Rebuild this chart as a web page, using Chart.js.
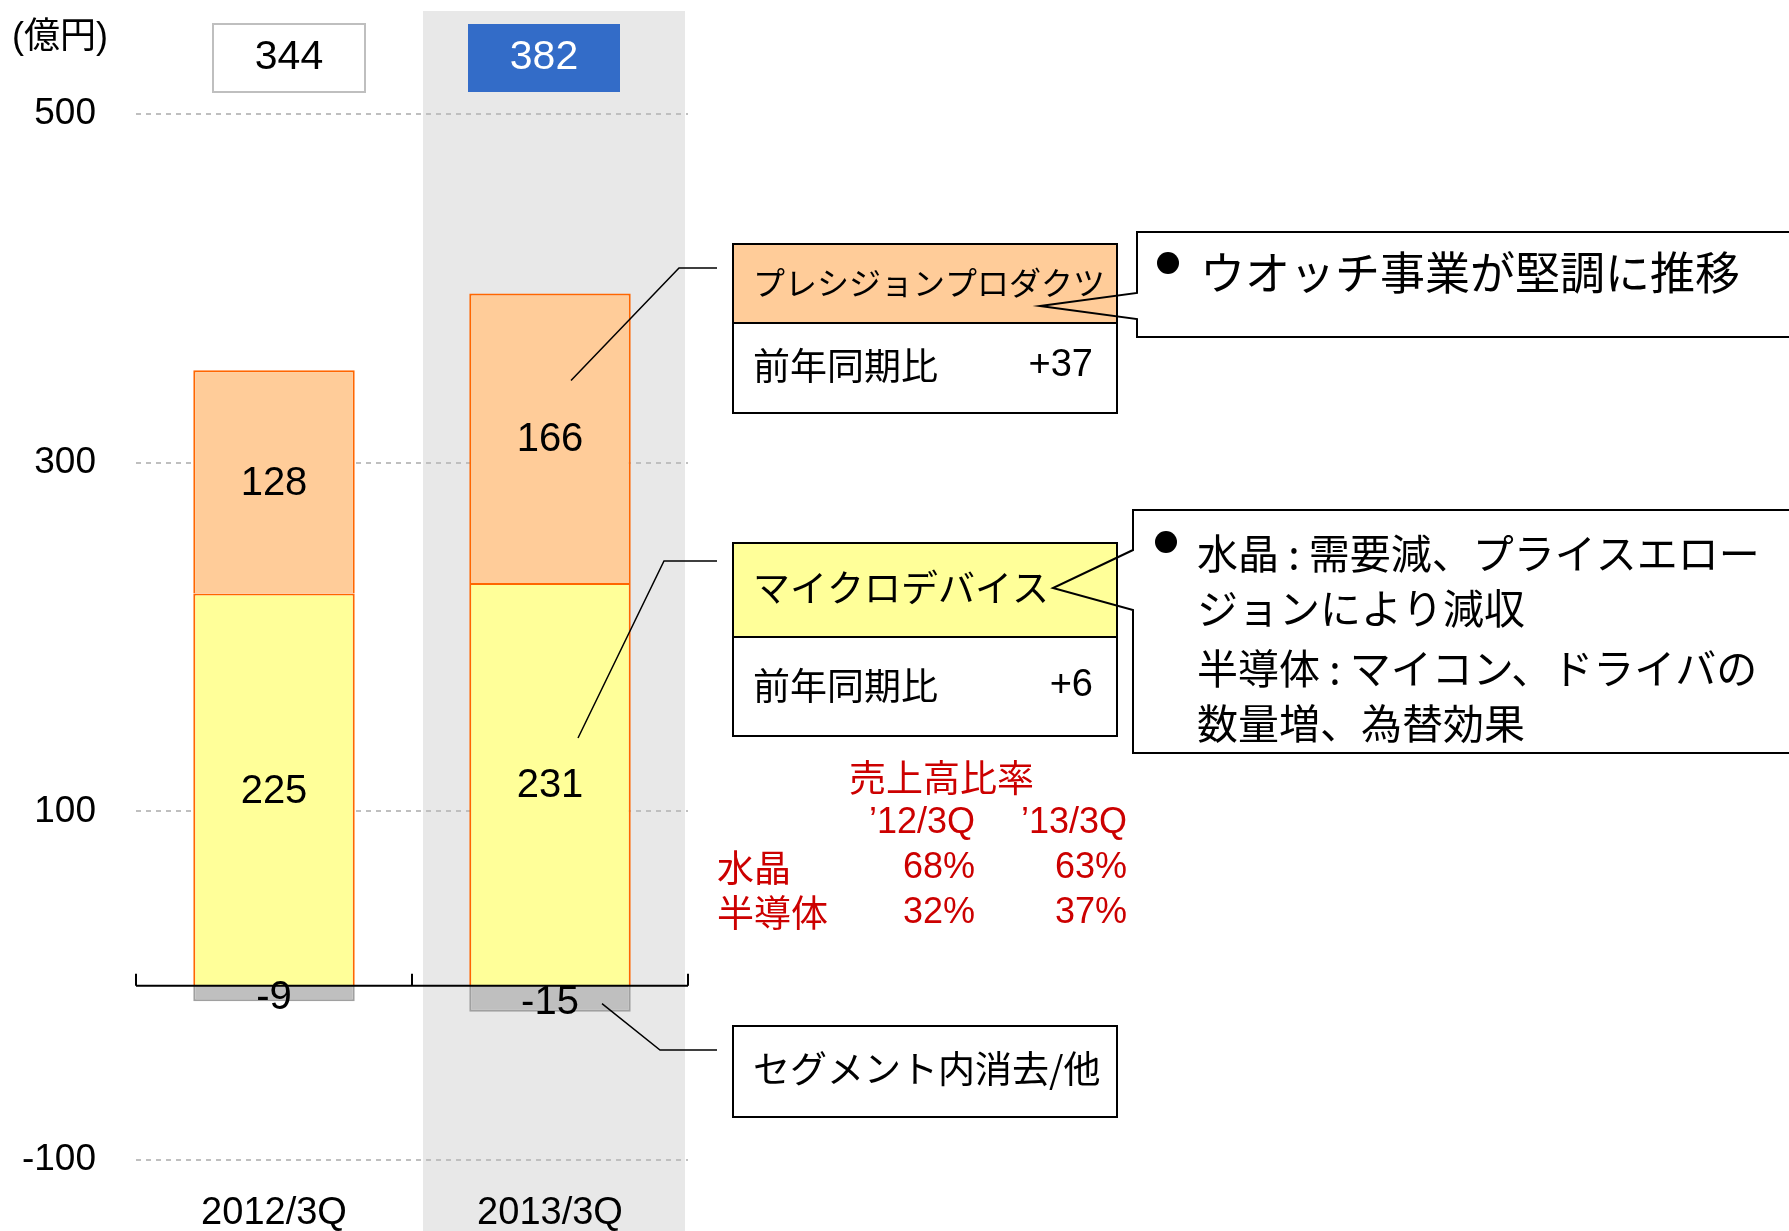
<!DOCTYPE html>
<html lang="ja">
<head>
<meta charset="utf-8">
<title>セグメント別売上高</title>
<script src="https://cdn.jsdelivr.net/npm/chart.js@4.4.1/dist/chart.umd.min.js"></script>
<style>
html, body { margin: 0; padding: 0; background: #fff; }
#wrap { position: relative; width: 1789px; height: 1231px; }
</style>
</head>
<body>
<div id="wrap"><canvas id="salesChart"></canvas></div>
<script>
// données (億円)
const categories = ['2012/3Q', '2013/3Q'];
const microDevices = [225, 231];
const precisionProducts = [128, 166];
const eliminations = [-9, -15];
const yTickValues = [-100, 100, 300, 500];

const yoyPrecision = '+37';
const yoyMicro = '+6';
const ratioYears = ['’12/3Q', '’13/3Q'];
const crystalShare = [68, 63];
const semiconductorShare = [32, 37];

const LATIN = '"Liberation Sans", Arial, "Noto Sans CJK JP", sans-serif';
const JP = '"Noto Sans CJK JP", "Liberation Sans", sans-serif';

function drawText(ctx, str, x, y, font, color, align) {
    ctx.font = font;
    ctx.fillStyle = color || '#000';
    ctx.textAlign = align || 'left';
    ctx.textBaseline = 'middle';
    ctx.fillText(str, x, y);
}

function drawBox(ctx, x, y, w, h, fill, stroke, lw) {
    if (fill) {
        ctx.fillStyle = fill;
        ctx.fillRect(x, y, w, h);
    }
    if (stroke) {
        ctx.strokeStyle = stroke;
        ctx.lineWidth = lw || 2;
        ctx.strokeRect(x, y, w, h);
    }
}

function drawPolyline(ctx, pts, lw) {
    ctx.strokeStyle = '#000';
    ctx.lineWidth = lw || 1.5;
    ctx.beginPath();
    ctx.moveTo(pts[0][0], pts[0][1]);
    for (let i = 1; i < pts.length; i++) ctx.lineTo(pts[i][0], pts[i][1]);
    ctx.stroke();
}

// rectangle callout with a pointer on its left side
function drawCallout(ctx, left, top, bottom, baseTop, baseBottom, tip) {
    ctx.strokeStyle = '#000';
    ctx.lineWidth = 2;
    ctx.beginPath();
    ctx.moveTo(1800, top);
    ctx.lineTo(left, top);
    ctx.lineTo(left, baseTop);
    ctx.lineTo(tip[0], tip[1]);
    ctx.lineTo(left, baseBottom);
    ctx.lineTo(left, bottom);
    ctx.lineTo(1800, bottom);
    ctx.stroke();
}

// bande grise derrière 2013/3Q
const bandPlugin = {
    id: 'band',
    beforeDraw(chart) {
        const { ctx, chartArea, scales: { x } } = chart;
        const step = x.getPixelForValue(1) - x.getPixelForValue(0);
        const left = x.getPixelForValue(1) - step * 0.46;
        const right = chartArea.right - 3;
        ctx.save();
        ctx.fillStyle = '#E8E8E8';
        ctx.fillRect(left, 11, right - left, chart.height - 11);
        ctx.restore();
    }
};

const annotationPlugin = {
    id: 'annotations',
    afterDatasetsDraw(chart) {
        const { ctx, chartArea, scales: { x, y } } = chart;
        ctx.save();

        // axe zéro + graduations
        const y0 = y.getPixelForValue(0);
        const step = x.getPixelForValue(1) - x.getPixelForValue(0);
        ctx.strokeStyle = '#000';
        ctx.lineWidth = 2;
        ctx.beginPath();
        ctx.moveTo(chartArea.left, y0);
        ctx.lineTo(chartArea.right, y0);
        for (let i = 0; i <= categories.length; i++) {
            const bx = chartArea.left + i * step;
            ctx.moveTo(bx, y0 - 12);
            ctx.lineTo(bx, y0);
        }
        ctx.stroke();

        // valeurs dans les barres
        chart.data.datasets.forEach((ds, i) => {
            chart.getDatasetMeta(i).data.forEach((el, j) => {
                const v = ds.data[j];
                const cy = (el.y + el.base) / 2 + (v < 0 ? 4 : 2);
                drawText(ctx, String(v), el.x, cy, '40px ' + LATIN, '#000', 'center');
            });
        });

        // totaux en haut
        const boxOffsets = [15, -6];
        const barsTop = chart.getDatasetMeta(0).data;
        categories.forEach((c, j) => {
            const total = microDevices[j] + precisionProducts[j] + eliminations[j];
            const cx = barsTop[j].x + boxOffsets[j];
            if (j === categories.length - 1) {
                drawBox(ctx, cx - 76, 24, 152, 68, '#336CC8', null);
                drawText(ctx, String(total), cx, 58, '41px ' + LATIN, '#fff', 'center');
            } else {
                drawBox(ctx, cx - 76, 24, 152, 68, '#fff', '#BFBFBF', 2);
                drawText(ctx, String(total), cx, 58, '41px ' + LATIN, '#000', 'center');
            }
        });

        drawText(ctx, '(億円)', 12, 38, '36px ' + LATIN, '#000', 'left');

        // lignes de rappel
        const last = categories.length - 1;
        const prEl = chart.getDatasetMeta(1).data[last];
        const mdEl = chart.getDatasetMeta(0).data[last];
        const elEl = chart.getDatasetMeta(2).data[last];
        drawPolyline(ctx, [[prEl.x + 21, prEl.y + 87], [679, 268], [717, 268]]);
        drawPolyline(ctx, [[mdEl.x + 28, mdEl.y + 155], [664, 561], [717, 561]]);
        drawPolyline(ctx, [[elEl.x + 52, elEl.base + 18], [660, 1050], [717, 1050]]);

        // encadrés de segment
        drawBox(ctx, 733, 244, 384, 79, '#FFCC99', '#000', 2);
        drawBox(ctx, 733, 323, 384, 90, '#fff', '#000', 2);
        drawText(ctx, 'プレシジョンプロダクツ', 753, 283, '32px ' + JP, '#000');
        drawText(ctx, '前年同期比', 753, 366, '37px ' + JP, '#000');
        drawText(ctx, yoyPrecision, 1093, 366, '38px ' + LATIN, '#000', 'right');

        drawBox(ctx, 733, 543, 384, 94, '#FFFF99', '#000', 2);
        drawBox(ctx, 733, 637, 384, 99, '#fff', '#000', 2);
        drawText(ctx, 'マイクロデバイス', 753, 588, '37px ' + JP, '#000');
        drawText(ctx, '前年同期比', 753, 686, '37px ' + JP, '#000');
        drawText(ctx, yoyMicro, 1093, 686, '38px ' + LATIN, '#000', 'right');

        drawBox(ctx, 733, 1026, 384, 91, '#fff', '#000', 2);
        drawText(ctx, 'セグメント内消去/他', 753, 1069, '37px ' + JP, '#000');

        // bulles de commentaire
        drawCallout(ctx, 1137, 232, 337, 293, 319, [1040, 306]);
        ctx.fillStyle = '#000';
        ctx.beginPath(); ctx.arc(1168, 263, 11, 0, Math.PI * 2); ctx.fill();
        drawText(ctx, 'ウオッチ事業が堅調に推移', 1200, 273, '45px ' + JP, '#000');

        drawCallout(ctx, 1133, 510, 753, 550, 610, [1053, 588]);
        ctx.fillStyle = '#000';
        ctx.beginPath(); ctx.arc(1166, 542, 11, 0, Math.PI * 2); ctx.fill();
        const notes = ['水晶 : 需要減、プライスエロー', 'ジョンにより減収', '半導体 : マイコン、ドライバの', '数量増、為替効果'];
        const noteY = [553, 608, 668, 723];
        notes.forEach((t, i) => drawText(ctx, t, 1197, noteY[i], '41px ' + JP, '#000'));

        // tableau des ratios
        const red = '#CC0000';
        drawText(ctx, '売上高比率', 849, 778, '37px ' + JP, red);
        const colX = [975, 1127];
        ratioYears.forEach((t, i) => drawText(ctx, t, colX[i], 823, '36px ' + LATIN, red, 'right'));
        drawText(ctx, '水晶', 717, 868, '37px ' + JP, red);
        drawText(ctx, '半導体', 717, 913, '37px ' + JP, red);
        crystalShare.forEach((v, i) => drawText(ctx, v + '%', colX[i], 868, '36px ' + LATIN, red, 'right'));
        semiconductorShare.forEach((v, i) => drawText(ctx, v + '%', colX[i], 913, '36px ' + LATIN, red, 'right'));

        ctx.restore();
    }
};

const ctxSales = document.getElementById('salesChart');
new Chart(ctxSales.getContext('2d'), {
    type: 'bar',
    data: {
        labels: categories,
        datasets: [
            {
                label: 'マイクロデバイス',
                data: microDevices,
                backgroundColor: '#FFFF99',
                borderColor: '#FF6600',
                borderWidth: 2,
                barPercentage: 0.585,
                categoryPercentage: 1.0
            },
            {
                label: 'プレシジョンプロダクツ',
                data: precisionProducts,
                backgroundColor: '#FFCC99',
                borderColor: '#FF6600',
                borderWidth: 2,
                barPercentage: 0.585,
                categoryPercentage: 1.0
            },
            {
                label: 'セグメント内消去/他',
                data: eliminations,
                backgroundColor: '#BFBFBF',
                borderColor: '#A0A0A0',
                borderWidth: 2,
                barPercentage: 0.585,
                categoryPercentage: 1.0
            }
        ]
    },
    options: {
        responsive: true,
        maintainAspectRatio: false,
        animation: false,
        layout: { padding: { top: 114, right: 1101, bottom: 0, left: 0 } },
        plugins: {
            legend: { display: false },
            tooltip: { enabled: false }
        },
        scales: {
            x: {
                stacked: true,
                grid: { display: false, drawTicks: false },
                border: { display: false },
                ticks: {
                    color: '#000',
                    padding: 31,
                    font: { family: LATIN, size: 38 }
                },
                afterFit(scale) { scale.height = 71; }
            },
            y: {
                stacked: true,
                min: -100,
                max: 500,
                afterBuildTicks(scale) {
                    scale.ticks = yTickValues.map(v => ({ value: v }));
                },
                grid: {
                    color: '#BFBFBF',
                    lineWidth: 2,
                    drawTicks: false
                },
                border: { display: false, dash: [5, 5] },
                ticks: {
                    color: '#000',
                    padding: 40,
                    font: { family: LATIN, size: 37 }
                },
                afterFit(scale) { scale.width = 136; }
            }
        }
    },
    plugins: [bandPlugin, annotationPlugin]
});
</script>
</body>
</html>
